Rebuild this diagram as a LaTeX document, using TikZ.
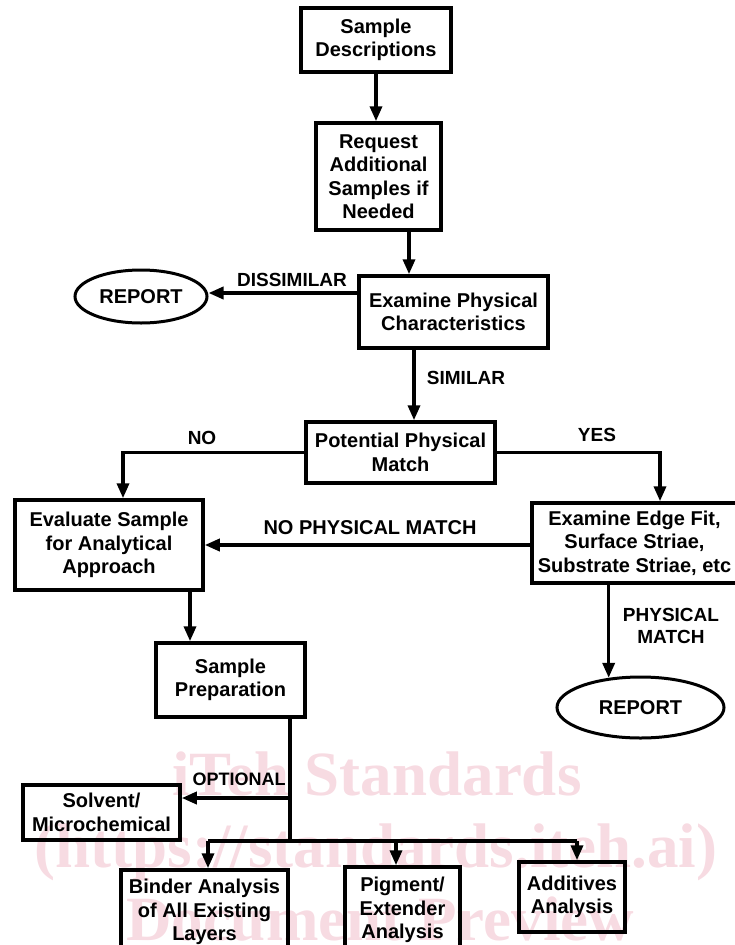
\documentclass[tikz,border=0pt]{standalone}
\usepackage{fontspec}
\setmainfont{Liberation Sans}
\newfontfamily\wmfont{Liberation Serif}
\usetikzlibrary{arrows.meta,shapes.geometric}
\definecolor{wmpink}{RGB}{247,219,226}
\newcommand\flowfont{\fontsize{20}{23.5}\selectfont\bfseries}
\newcommand\tagfont{\fontsize{19}{22}\selectfont\bfseries}
\begin{document}
\begin{tikzpicture}[x=1pt,y=-1pt,
  box/.style={draw,line width=3.5pt,align=center,inner sep=0pt,font=\flowfont},
  oval/.style={draw,ellipse,line width=3pt,inner sep=0pt,font=\flowfont},
  lbl/.style={inner sep=0pt,align=center,font=\tagfont},
  wire/.style={line width=3.5pt},
  arr/.style={wire,-{Triangle[length=15pt,width=12pt]}},
  wm/.style={inner sep=0pt,text=wmpink,font=\wmfont\fontsize{63}{63}\selectfont\bfseries}]
\useasboundingbox (0,0) rectangle (735,945);

% watermark text behind the chart
\node[wm,anchor=base] (wm1) at (377,795) {iTeh Standards};
\node[wm,anchor=base] (wm2) at (376,867) {(https://standards.iteh.ai)};
\node[wm,anchor=base] (wm3) at (380,940) {Document Preview};

% process boxes
\node[box,minimum width=150,minimum height=64] (desc) at (376,40) {Sample\\Descriptions};
\node[box,minimum width=125,minimum height=107] (req) at (378.5,176.5) {Request\\Additional\\Samples if\\Needed};
\node[box,minimum width=189,minimum height=72] (exam) at (453.5,312) {Examine Physical\\Characteristics};
\node[oval,minimum width=132,minimum height=53] (rep1) at (141,296.5) {REPORT};
\node[box,minimum width=189,minimum height=61] (pot) at (400.5,452.5) {Potential Physical\\Match};
\node[box,minimum width=188,minimum height=90] (eval) at (109,545) {Evaluate Sample\\for Analytical\\Approach};
\node[box,minimum width=205,minimum height=80] (edge) at (634.5,543) {Examine Edge Fit,\\Surface Striae,\\Substrate Striae, etc};
\node[box,minimum width=149,minimum height=74] (prep) at (230.5,680) {Sample\\Preparation};
\node[oval,minimum width=167,minimum height=61] (rep2) at (640.5,707.5) {REPORT};
\node[box,minimum width=157,minimum height=55] (solv) at (101.5,812.5) {Solvent/\\Microchemical};
\node[box,minimum width=167,minimum height=84] (binder) at (204.5,912) {Binder Analysis\\of All Existing\\Layers};
\node[box,minimum width=115,minimum height=86] (pig) at (402.5,910) {Pigment/\\Extender\\Analysis};
\node[box,minimum width=106,minimum height=70] (add) at (572,897) {Additives\\Analysis};

% connector columns and rows
\coordinate (xa) at (409,0);
\coordinate (xb) at (414,0);
\coordinate (xno) at (123,0);
\coordinate (xyes) at (660,0);
\coordinate (xev) at (190,0);
\coordinate (xpr) at (290,0);
\coordinate (xb1) at (208,0);
\coordinate (xb2) at (396,0);
\coordinate (xb3) at (577,0);
\coordinate (ydis) at (0,293);
\coordinate (ynpm) at (0,545);
\coordinate (yopt) at (0,798);
\coordinate (ybus) at (0,841);

% connectors
\draw[arr] (desc.south) -- (desc.south |- req.north);
\draw[arr] (req.south -| xa) -- (exam.north -| xa);
\draw[arr] (exam.west |- ydis) -- (rep1.east |- ydis);
\draw[arr] (exam.south -| xb) -- (pot.north -| xb);
\draw[arr] (pot.west) -| (eval.north -| xno);
\draw[arr] (pot.east) -| (edge.north -| xyes);
\draw[arr] (edge.west |- ynpm) -- (eval.east |- ynpm);
\draw[arr] (eval.south -| xev) -- (prep.north -| xev);
\draw[arr] (edge.south -| rep2.137) -- (rep2.137);
\draw[wire] (prep.south -| xpr) -- (xpr |- ybus);
\draw[arr] (xpr |- yopt) -- (solv.east |- yopt);
\draw[wire] (xb1 |- ybus) -- (xb3 |- ybus);
\draw[arr] (xb1 |- ybus) -- (binder.north -| xb1);
\draw[arr] (xb2 |- ybus) -- (pig.north -| xb2);
\draw[arr] (xb3 |- ybus) -- (add.north -| xb3);

% connector labels
\node[lbl] (ldis) at (292,280) {DISSIMILAR};
\node[lbl] (lsim) at (466,378) {SIMILAR};
\node[lbl] (lno) at (202,438) {NO};
\node[lbl] (lyes) at (597,435) {YES};
\node[lbl,font=\flowfont] (lnpm) at (370,528) {NO PHYSICAL MATCH};
\node[lbl] (lpm) at (671,626) {PHYSICAL\\MATCH};
\node[lbl,font=\fontsize{18}{21}\selectfont\bfseries] (lopt) at (239,779) {OPTIONAL};
\end{tikzpicture}
\end{document}
